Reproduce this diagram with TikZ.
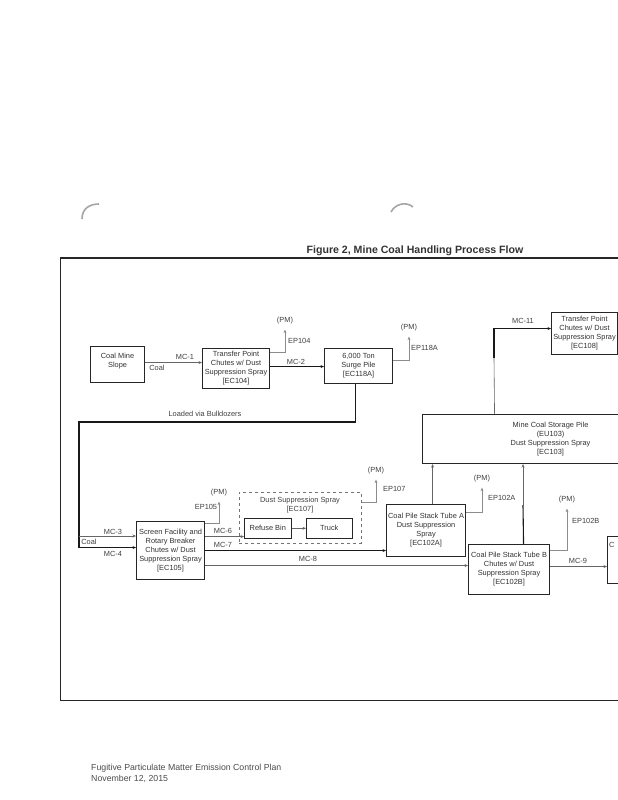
\documentclass[tikz,border=0pt]{standalone}
\usepackage{fontspec}
\setmainfont{Liberation Sans}
\usetikzlibrary{arrows.meta}
\newcommand{\flowfont}{\fontsize{7.4}{9}\selectfont}

\begin{document}
\begin{tikzpicture}[x=1pt, y=-1pt,
        box/.style={draw=black!85, line width=1.1pt, align=center, font=\flowfont, text=black!80, inner sep=1pt, anchor=north west},
        smallbox/.style={box, line width=0.6pt},
        spraybox/.style={draw=black!55, dashed, line width=0.6pt, anchor=north west},
        sz/.style 2 args={minimum width=#1pt, minimum height=#2pt},
        lbl/.style={font=\flowfont, text=black!75, inner sep=1pt},
        flow/.style={->, line width=1.1pt, black!90},
        feed/.style={->, line width=0.6pt, black!60},
        vent/.style={->, line width=0.5pt, black!45},
        >={Stealth[length=3.5pt, width=3pt]}
    ]
        \useasboundingbox (0,0) rectangle (618,800);
        \clip (0,0) rectangle (618,800);
        \fill[white] (0,0) rectangle (618,800);

        % Binder holes
        \draw[black!35, line width=1.6pt] (82,219) .. controls (82,209) and (89,204) .. (99,204);
        \draw[black!35, line width=1.6pt] (391,212) .. controls (395,204) and (406,201) .. (413,207);

        % Title and frame
        \node[font=\bfseries\fontsize{10.6}{12}\selectfont, text=black!80] (title) at (415,251) {Figure 2, Mine Coal Handling Process Flow};
        \draw[line width=1.3pt, black!85] (60,258) -- (618,258);
        \draw[line width=0.8pt, black!85] (60,258) -- (60,700) -- (618,700);

        % Top row
        \node[box, sz={54}{36}] (slope) at (90,346) {Coal Mine\\Slope\\~};
        \node[box, sz={67}{40}] (tp104) at (202,348) {Transfer Point\\Chutes w/ Dust\\Suppression Spray\\{[EC104]}};
        \node[box, sz={68}{35}] (surge) at (324,348) {6,000 Ton\\Surge Pile\\{[EC118A]}};
        \draw[feed] ([yshift=2pt]slope.east) -- ([yshift=2pt]slope.east -| tp104.west);
        \node[lbl] (mc1) at (185,357) {MC-1};
        \node[lbl] (coal1) at (157,368) {Coal};
        \draw[flow] ([yshift=2pt]tp104.east) -- ([yshift=2pt]tp104.east -| surge.west);
        \node[lbl] (mc2) at (296,362) {MC-2};

        % Emission points, top row
        \node[lbl] (pm104) at (285,321) {(PM)};
        \draw[vent] ([yshift=-4pt]tp104.north east) -| ([yshift=-4pt]pm104.south);
        \node[lbl, anchor=west] (ep104) at (287,341) {EP104};
        \node[lbl] (pm118) at (409,328) {(PM)};
        \draw[vent] ([yshift=-12pt]surge.north east) -| ([yshift=-4pt]pm118.south);
        \node[lbl, anchor=west] (ep118) at (410,348) {EP118A};

        % Screen facility
        \node[box, sz={68}{58}] (screen) at (136,521) {Screen Facility and\\Rotary Breaker\\Chutes w/ Dust\\Suppression Spray\\{[EC105]}};
        \coordinate (dozer) at (79,422);
        \coordinate (split) at (79,536);
        \draw[flow] ([xshift=-3pt]surge.south) |- (dozer) |- ([yshift=3pt]screen.west);
        \node[lbl] (dozers) at (205,414) {Loaded via Bulldozers};
        \draw[feed] (split) -- (split -| screen.west);
        \node[lbl] (mc3) at (113,532) {MC-3};
        \node[lbl] (coal2) at (89,542) {Coal};
        \node[lbl] (mc4) at (113,554) {MC-4};
        \node[lbl] (pm105) at (219,493) {(PM)};
        \draw[vent] ([yshift=-2pt]screen.north east) -| ([yshift=-4pt]pm105.south);
        \node[lbl] (ep105) at (206,507) {EP105};

        % Refuse handling
        \node[spraybox, sz={122}{51}] (spray107) at (239,492) {};
        \node[lbl, align=center] (spray107t) at (300,505) {Dust Suppression Spray\\{[EC107]}};
        \node[smallbox, sz={47}{20}] (bin) at (244,518) {Refuse Bin};
        \node[smallbox, sz={46}{20}] (truck) at (306,518) {Truck};
        \draw[feed] (bin) -- (truck);
        \node[lbl] (pm107) at (376,471) {(PM)};
        \draw[vent] ([yshift=-10pt]spray107.north east) -| ([yshift=-4pt]pm107.south);
        \node[lbl, anchor=west] (ep107) at (382,489) {EP107};

        % Storage and stack tubes
        \node[box, sz={256}{49}] (storage) at (422,414) {Mine Coal Storage Pile\\(EU103)\\Dust Suppression Spray\\{[EC103]}};
        \node[box, sz={79}{52}] (tubeA) at (386,504) {Coal Pile Stack Tube A\\Dust Suppression\\Spray\\{[EC102A]}};
        \node[box, sz={81}{50}] (tubeB) at (468,544) {Coal Pile Stack Tube B\\Chutes w/ Dust\\Suppression Spray\\{[EC102B]}};
        \draw[feed] ([yshift=14pt]screen.east) -- ([yshift=14pt]screen.east -| bin.west);
        \node[lbl] (mc6) at (223,531) {MC-6};
        \draw[flow] (screen.east) -- (screen.east -| tubeA.west);
        \node[lbl] (mc7) at (223,545) {MC-7};
        \draw[feed] ([yshift=-15pt]screen.east) -- ([yshift=-15pt]screen.east -| tubeB.west);
        \node[lbl] (mc8) at (308,559) {MC-8};
        \draw[feed] ([xshift=6.5pt]tubeA.north) -- ([xshift=6.5pt]tubeA.north |- storage.south);
        \coordinate (tbmid) at (523,505);
        \draw[flow, -] ([xshift=14.5pt]tubeB.north) -- (tbmid);
        \draw[feed] (tbmid) -- (tbmid |- storage.south);
        \node[lbl] (pm102a) at (482,479) {(PM)};
        \draw[vent] ([yshift=-8pt]tubeA.north east) -| ([yshift=-4pt]pm102a.south);
        \node[lbl, anchor=west] (ep102a) at (487,498) {EP102A};
        \node[lbl] (pm102b) at (567,500) {(PM)};
        \draw[vent] ([yshift=-6pt]tubeB.north east) -| ([yshift=-4pt]pm102b.south);
        \node[lbl, anchor=west] (ep102b) at (571,521) {EP102B};

        % Out to the right
        \node[box, sz={60}{47}] (coalbox) at (607,536) {};
        \node[lbl, anchor=west] (coalboxt) at (608,545) {C};
        \draw[feed] ([yshift=3pt]tubeB.east) -- ([yshift=3pt]tubeB.east -| coalbox.west);
        \node[lbl] (mc9) at (578,561) {MC-9};
        \node[box, sz={66}{42}] (tp108) at (551,312) {Transfer Point\\Chutes w/ Dust\\Suppression Spray\\{[EC108]}};
        \coordinate (mc11a) at (494,358);
        \draw[feed, -] ([xshift=-56pt]storage.north) -- (mc11a);
        \draw[flow] (mc11a) |- ([yshift=5pt]tp108.west);
        \node[lbl] (mc11) at (523,321) {MC-11};

        % Footer
        \node[font=\fontsize{8.75}{11}\selectfont, text=black!70, anchor=north west, align=left, inner sep=0pt] (footer) at (91,764) {Fugitive Particulate Matter Emission Control Plan\\November 12, 2015};
    \end{tikzpicture}
\end{document}
